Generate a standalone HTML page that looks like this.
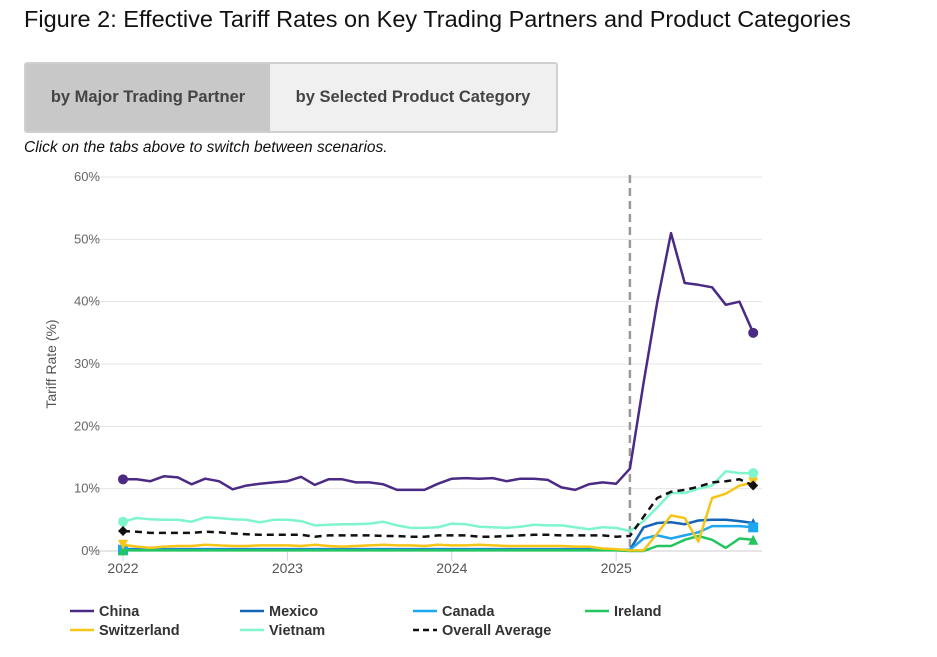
<!DOCTYPE html>
<html><head><meta charset="utf-8">
<style>
body{margin:0;width:937px;height:657px;background:#fff;font-family:"Liberation Sans",sans-serif;position:relative;overflow:hidden}
#title{position:absolute;left:24px;top:6px;font-size:23.5px;color:#111;white-space:nowrap}
#tabs{position:absolute;left:24px;top:62px;width:530px;height:67px;border:2px solid #cfcfcf;border-radius:3px;background:#f0f0f0;display:flex}
.tab{display:flex;align-items:center;justify-content:center;font-size:16.5px;font-weight:bold;color:#444}
#tab1{width:244px;background:#c8c8c8}
#tab2{flex:1}
#note{position:absolute;left:24px;top:139px;font-size:15.5px;font-style:italic;color:#111}
svg{position:absolute;left:0;top:0}
</style></head><body>
<div id="title">Figure 2: Effective Tariff Rates on Key Trading Partners and Product Categories</div>
<div id="tabs">
<div class="tab" id="tab1">by Major Trading Partner</div>
<div class="tab" id="tab2">by Selected Product Category</div>
</div>
<div id="note">Click on the tabs above to switch between scenarios.</div>
<svg id="chart" width="937" height="657"></svg>
<script>
const yTicks=[0,10,20,30,40,50,60];
const xYears=["2022","2023","2024","2025"];
const seriesNames=["China","Mexico","Canada","Ireland","Switzerland","Vietnam","Overall Average"];
const china=[11.5,11.5,11.2,12,11.8,10.7,11.6,11.2,9.9,10.5,10.8,11,11.2,11.9,10.6,11.5,11.5,11,11,10.7,9.8,9.8,9.8,10.8,11.6,11.7,11.6,11.7,11.2,11.6,11.6,11.4,10.2,9.8,10.7,11,10.8,13.2,27,40,51,43,42.7,42.3,39.5,40,35];
const vietnam=[4.7,5.3,5.1,5,5,4.7,5.4,5.3,5.1,5,4.6,5,5,4.8,4.1,4.2,4.3,4.3,4.4,4.7,4.1,3.7,3.7,3.8,4.4,4.3,3.9,3.8,3.7,3.9,4.2,4.1,4.1,3.8,3.5,3.8,3.7,3.2,4.8,7,9.3,9.3,10,10.5,12.8,12.5,12.5];
const overall=[3.2,3.1,2.9,2.9,2.9,2.9,3.1,3.0,2.8,2.7,2.6,2.6,2.6,2.6,2.3,2.5,2.5,2.5,2.5,2.4,2.4,2.3,2.3,2.5,2.5,2.5,2.3,2.3,2.4,2.5,2.6,2.6,2.5,2.5,2.5,2.5,2.3,2.4,5.5,8.5,9.5,9.8,10.3,11,11.2,11.5,10.5];
const switzerland=[1,0.7,0.5,0.7,0.8,0.8,1,0.9,0.8,0.8,0.9,0.9,0.9,0.8,1,0.8,0.7,0.8,0.9,1,0.9,0.9,0.8,1,0.9,0.9,1,0.9,0.8,0.8,0.8,0.8,0.8,0.7,0.7,0.4,0.3,0.1,0.1,2.8,5.7,5.3,1.5,8.5,9.2,10.5,11];
const mexico=[0.3,0.3,0.3,0.3,0.3,0.3,0.3,0.3,0.3,0.3,0.3,0.3,0.3,0.3,0.3,0.3,0.3,0.3,0.3,0.3,0.3,0.3,0.3,0.3,0.3,0.3,0.3,0.3,0.3,0.3,0.3,0.3,0.3,0.3,0.3,0.2,0.2,0.2,3.8,4.5,4.6,4.3,4.9,5,5,4.8,4.5];
const canada=[0.2,0.2,0.2,0.2,0.2,0.2,0.2,0.2,0.2,0.2,0.2,0.2,0.2,0.2,0.2,0.2,0.2,0.2,0.2,0.2,0.2,0.2,0.2,0.2,0.2,0.2,0.2,0.2,0.2,0.2,0.2,0.2,0.2,0.2,0.2,0.2,0.2,0.2,2,2.5,2,2.5,3,4,4,4,3.8];
const ireland=[0.1,0.1,0.1,0.1,0.1,0.1,0.1,0.1,0.1,0.1,0.1,0.1,0.1,0.1,0.1,0.1,0.1,0.1,0.1,0.1,0.1,0.1,0.1,0.1,0.1,0.1,0.1,0.1,0.1,0.1,0.1,0.1,0.1,0.1,0.1,0.1,0.1,0,0,0.8,0.8,1.8,2.4,1.8,0.5,2,1.8];

const NS="http://www.w3.org/2000/svg";
const svg=document.getElementById('chart');
function mk(t,a,p){const e=document.createElementNS(NS,t);for(const k in a)e.setAttribute(k,a[k]);(p||svg).appendChild(e);return e;}
const x0=123,dx=13.7,y0=551,yMax=60,yTop=177,xRight=762;
const X=i=>x0+i*dx;
const Y=v=>y0-(v/yMax)*(y0-yTop);
yTicks.forEach(t=>{
  const g=mk('line',{x1:90,x2:xRight,y1:Y(t),y2:Y(t),stroke:t===0?'#ccc':'#e6e6e6','stroke-width':1});
  
  
  const l=mk('text',{x:100,y:Y(t)+4,'text-anchor':'end','font-size':13,fill:'#666','font-family':'Liberation Sans'});
  l.textContent=t+'%';
  
  
});
xYears.forEach((yr,k)=>{
  const x=X(k*12);
  const tk=mk('line',{x1:x,x2:x,y1:y0,y2:y0+10,stroke:'#ccd6eb'});
  
  
  const l=mk('text',{x:x,y:y0+22,'text-anchor':'middle','font-size':14,fill:'#555','font-family':'Liberation Sans'});
  l.textContent=yr;
  
  
});
const yt=mk('text',{x:0,y:0,transform:'translate(56,364) rotate(-90)','text-anchor':'middle','font-size':14,fill:'#555','font-family':'Liberation Sans'});
yt.textContent='Tariff Rate (%)';


const vl=mk('line',{x1:X(37),x2:X(37),y1:175,y2:y0,stroke:'#999','stroke-width':2.5,'stroke-dasharray':'8,5'});



function marker(shape,x,y,c,p){
  if(shape==='circle')return mk('circle',{cx:x,cy:y,r:5,fill:c},p);
  if(shape==='square')return mk('rect',{x:x-5,y:y-5,width:10,height:10,fill:c},p);
  if(shape==='tri')return mk('path',{d:`M${x},${y-5}L${x+5},${y+5}L${x-5},${y+5}Z`,fill:c},p);
  if(shape==='tridown')return mk('path',{d:`M${x-5},${y-5}L${x+5},${y-5}L${x},${y+5}Z`,fill:c},p);
  return mk('path',{d:`M${x},${y-5}L${x+5},${y}L${x},${y+5}L${x-5},${y}Z`,fill:c},p);
}
const series=[
 {name:'mexico',data:mexico,c:'#1565b8',m:'tri'},
 {name:'canada',data:canada,c:'#1ea7f0',m:'square'},
 {name:'ireland',data:ireland,c:'#22c55e',m:'tri'},
 {name:'switzerland',data:switzerland,c:'#f5c518',m:'tridown'},
 {name:'vietnam',data:vietnam,c:'#7ff5cc',m:'circle'},
 {name:'overall-average',data:overall,c:'#111',m:'diamond',dash:'7,5'},
 {name:'china',data:china,c:'#4b2a85',m:'circle'}
];
series.forEach(s=>{
  const g=mk('g',{});
  
  
  const d=s.data.map((v,i)=>(i?'L':'M')+X(i).toFixed(1)+','+Y(v).toFixed(1)).join('');
  const p=mk('path',{d:d,fill:'none',stroke:s.c,'stroke-width':2.5,'stroke-linejoin':'round'},g);
  if(s.dash)p.setAttribute('stroke-dasharray',s.dash);
  
  
  const n=s.data.length-1;
  const a=marker(s.m,X(0),Y(s.data[0]),s.c,g);
  
  
  const b=marker(s.m,X(n),Y(s.data[n]),s.c,g);
  
  
});
const legend=[
 ['China','#4b2a85',70,611,false],['Mexico','#1565b8',240,611,false],['Canada','#1ea7f0',413,611,false],['Ireland','#22c55e',585,611,false],
 ['Switzerland','#f5c518',70,630,false],['Vietnam','#7ff5cc',240,630,false],['Overall Average','#111',413,630,true]
];
legend.forEach(l=>{
  const g=mk('g',{});
  
  
  const ln=mk('line',{x1:l[2],x2:l[2]+24,y1:l[3],y2:l[3],stroke:l[1],'stroke-width':2.5},g);
  if(l[4])ln.setAttribute('stroke-dasharray','6,4');
  const t=mk('text',{x:l[2]+29,y:l[3]+5,'font-size':14.5,'font-weight':'bold',fill:'#333','font-family':'Liberation Sans'},g);
  t.textContent=l[0];
});
</script>
</body></html>
